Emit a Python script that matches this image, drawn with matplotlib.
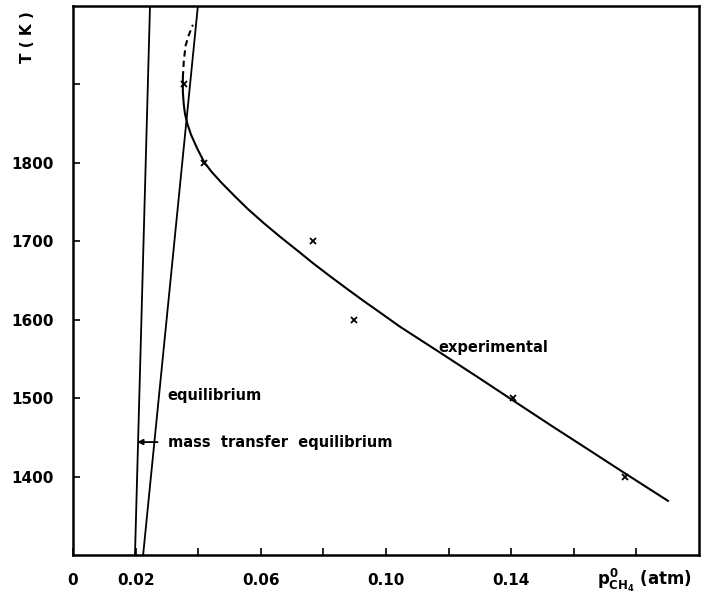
import matplotlib
matplotlib.use("Agg")
import matplotlib.pyplot as plt

plt.rcParams['font.family'] = ['DejaVu Sans']
plt.rcParams['font.weight'] = 'bold'
plt.rcParams['mathtext.fontset'] = 'custom'
plt.rcParams['mathtext.rm'] = 'DejaVu Sans:bold'
plt.rcParams['mathtext.it'] = 'DejaVu Sans:bold'
plt.rcParams['mathtext.bf'] = 'DejaVu Sans:bold'

# ---- data ----
# experimental curve, solid part (p in atm, T in K)
exp_p = [0.0351, 0.0351, 0.0354, 0.0358, 0.0366, 0.0377, 0.0396, 0.0419,
         0.0444, 0.0476, 0.0518, 0.0559, 0.0610, 0.0661, 0.0716, 0.0767,
         0.0821, 0.0875, 0.0930, 0.0987, 0.1045, 0.1173, 0.1300, 0.1406,
         0.1524, 0.1652, 0.1764, 0.1901]
exp_T = [1909, 1890, 1874, 1862, 1849, 1836, 1819, 1801,
         1788, 1774, 1757, 1741, 1723, 1706, 1688.5, 1672,
         1655.5, 1639.5, 1623.5, 1607.5, 1591, 1558, 1525, 1497,
         1466, 1433, 1404, 1369]
# experimental curve, dashed extrapolation
dash_p = [0.0351, 0.0354, 0.0360, 0.0370, 0.0383]
dash_T = [1909, 1930, 1950, 1963, 1976]
# measured points
pts_p = [0.0355, 0.0419, 0.0767, 0.0898, 0.1406, 0.1764]
pts_T = [1900, 1800, 1700, 1600, 1500, 1400]
# equilibrium line
eq_p = [0.0224, 0.0399]
eq_T = [1300, 2000]
# mass transfer equilibrium line
mt_p = [0.0198, 0.0246]
mt_T = [1300, 2000]

xticks = [0, 0.02, 0.04, 0.06, 0.08, 0.10, 0.12, 0.14, 0.16, 0.18]
xtick_labels = ['0', '0.02', '', '0.06', '', '0.10', '', '0.14', '', '']
yticks = [1400, 1500, 1600, 1700, 1800, 1900]
ytick_labels = ['1400', '1500', '1600', '1700', '1800', '']

fig = plt.figure(figsize=(7.04, 6.06), dpi=100)
ax = fig.add_axes([73/704, 51/606, 626/704, 549/606])

lw = 1.5
ax.plot(exp_p, exp_T, color='black', lw=lw, solid_joinstyle='round')
ax.plot(dash_p, dash_T, color='black', lw=lw, linestyle=(0, (3, 2)))
ax.plot(eq_p, eq_T, color='black', lw=1.3)
ax.plot(mt_p, mt_T, color='black', lw=1.3)
ax.plot(pts_p, pts_T, linestyle='none', marker='x', color='black',
        markersize=4, markeredgewidth=1.3)

ax.set_xlim(0, 0.2)
ax.set_ylim(1300, 2000)
ax.set_xticks(xticks)
ax.set_xticklabels(xtick_labels)
ax.set_yticks(yticks)
ax.set_yticklabels(ytick_labels)
ax.tick_params(direction='in', length=5, width=1.2, labelsize=11, pad=13)
ax.tick_params(axis='y', pad=14)
for s in ax.spines.values():
    s.set_linewidth(1.8)

# annotations
ax.text(0.0302, 1504, 'equilibrium', fontsize=10.5, fontweight='bold',
        va='center', ha='left')
ax.text(0.0302, 1444, 'mass  transfer  equilibrium', fontsize=10.5,
        fontweight='bold', va='center', ha='left')
ax.annotate('', xy=(0.0205, 1444), xytext=(0.0270, 1444),
            arrowprops=dict(arrowstyle='-|>', color='black', lw=1.3,
                            mutation_scale=8, shrinkA=0, shrinkB=0))
ax.text(0.1166, 1565, 'experimental', fontsize=10.5, fontweight='bold',
        va='center', ha='left')

# axis labels
fig.text(644/704, 1 - 580/606, r'$p^{0}_{CH_4}$ (atm)', fontsize=12,
         ha='center', va='center')
fig.text(28/704, 1 - 37/606, 'T ( K )', rotation=90, fontsize=11,
         fontweight='bold', ha='center', va='center')

fig.savefig('out.png', dpi=100)
